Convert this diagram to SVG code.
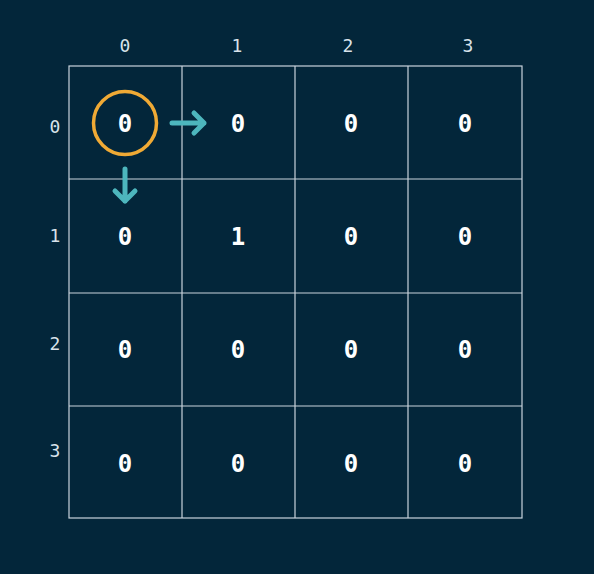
<svg xmlns="http://www.w3.org/2000/svg" width="594" height="574" viewBox="0 0 594 574">
<style>
.lbl{font-family:"DejaVu Sans Mono","Liberation Mono",monospace;font-size:18px;fill:#d8e2ea;text-anchor:middle}
.val{font-family:"DejaVu Sans Mono","Liberation Mono",monospace;font-size:24px;font-weight:bold;fill:#ffffff;text-anchor:middle}
.grid{stroke:#c9d3dc;stroke-width:1.2;fill:none}
.arr{stroke:#4db6bd;stroke-width:5;fill:none;stroke-linecap:round;stroke-linejoin:round}
</style>
<rect width="594" height="574" fill="#03263a"/>
<g id="grid">
<rect x="69" y="66" width="453" height="452" class="grid" stroke-width="2"/>
<line x1="182" y1="66" x2="182" y2="518" class="grid"/>
<line x1="295" y1="66" x2="295" y2="518" class="grid"/>
<line x1="408" y1="66" x2="408" y2="518" class="grid"/>
<line x1="69" y1="179" x2="522" y2="179" class="grid"/>
<line x1="69" y1="293" x2="522" y2="293" class="grid"/>
<line x1="69" y1="406" x2="522" y2="406" class="grid"/>
</g>
<g id="labels">
<text class="lbl" x="125" y="52">0</text>
<text class="lbl" x="237" y="52">1</text>
<text class="lbl" x="348" y="52">2</text>
<text class="lbl" x="468" y="52">3</text>
<text class="lbl" x="55" y="133">0</text>
<text class="lbl" x="55" y="242">1</text>
<text class="lbl" x="55" y="350">2</text>
<text class="lbl" x="55" y="457">3</text>
</g>
<g id="values">
<text class="val" x="125" y="132">0</text>
<text class="val" x="238" y="132">0</text>
<text class="val" x="351" y="132">0</text>
<text class="val" x="465" y="132">0</text>
<text class="val" x="125" y="245">0</text>
<text class="val" x="238" y="245">1</text>
<text class="val" x="351" y="245">0</text>
<text class="val" x="465" y="245">0</text>
<text class="val" x="125" y="358">0</text>
<text class="val" x="238" y="358">0</text>
<text class="val" x="351" y="358">0</text>
<text class="val" x="465" y="358">0</text>
<text class="val" x="125" y="472">0</text>
<text class="val" x="238" y="472">0</text>
<text class="val" x="351" y="472">0</text>
<text class="val" x="465" y="472">0</text>
</g>
<g id="highlight">
<circle cx="125" cy="123" r="31.5" fill="none" stroke="#f0aa35" stroke-width="3.5"/>
</g>
<g id="connectors">
<path class="arr" d="M172 123 H204 M194 113 L204 123 L194 133"/>
<path class="arr" d="M125 169 V201 M115 191 L125 201 L135 191"/>
</g>
</svg>
